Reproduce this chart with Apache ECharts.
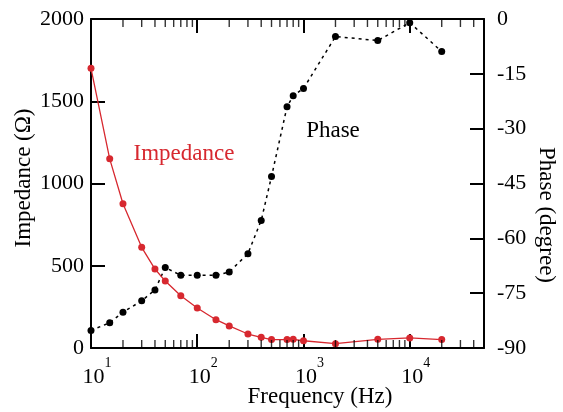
<!DOCTYPE html>
<html>
<head>
<meta charset="utf-8">
<script src="https://cdn.jsdelivr.net/npm/echarts@6/dist/echarts.min.js"></script>
<style>html,body{margin:0;padding:0;background:#fff;}#c{width:563px;height:412px;}</style>
</head>
<body>
<div id="c"></div>
<script>
var frequency = [10,15,20,30,40,50,70,100,150,200,300,400,500,700,800,1000,2000,5000,10000,20000];
var impedance = [1700,1150,877,612,480,407,318,243,172,134,85,65,51,51,53,44,26,53,61,51];
var phase = [-85.2,-83.1,-80.2,-77.1,-74.1,-68.0,-70.1,-70.1,-70.1,-69.2,-64.2,-55.1,-43.1,-24.0,-21.0,-19.0,-4.8,-5.9,-1.0,-8.9];
var impedanceTicks = [0,500,1000,1500,2000];
var phaseTicks = [-90,-75,-60,-45,-30,-15,0];
var xMin = 10, xMax = 50000;

var FONT = '"Liberation Serif", "Times New Roman", serif';
var RED = '#d7282f';

var minorTicks = [];
[10,100,1000,10000].forEach(function(d){
  for (var k = 2; k <= 9; k++) { if (d*k < xMax) minorTicks.push(d*k); }
});

function zip(a, b){ return a.map(function(v,i){ return [v, b[i]]; }); }
function plain(v){ return String(v); }

var chart = echarts.init(document.getElementById('c'), null, {renderer:'canvas'});
var axisLineStyle = {color:'#000', width:2};
var option = {
  animation: false,
  backgroundColor: '#fff',
  textStyle: {fontFamily: FONT},
  grid: {left:91, right:79, top:19, bottom:64, containLabel:false},
  xAxis: [{
    type:'log', logBase:10, min:xMin, max:xMax, position:'bottom',
    axisLine:{show:true, onZero:false, lineStyle:axisLineStyle},
    axisTick:{show:true, inside:true, length:14, lineStyle:{color:'#000', width:2}},
    splitLine:{show:false}, minorTick:{show:false},
    axisLabel:{
      show:true, margin:8.5, showMaxLabel:false, color:'#000', fontFamily:FONT,
      formatter:function(v){
        var e = Math.log10(v);
        if (Math.abs(e - Math.round(e)) > 1e-6) return '';
        return '{b|10}{s|' + Math.round(e) + '}';
      },
      rich:{
        b:{fontFamily:FONT, fontSize:22, color:'#000', lineHeight:32, verticalAlign:'bottom', padding:[0,0,0,12]},
        s:{fontFamily:FONT, fontSize:14, color:'#000', lineHeight:12, verticalAlign:'top'}
      }
    }
  },{
    type:'log', logBase:10, min:xMin, max:xMax, position:'top', gridIndex:0,
    axisLine:{show:true, onZero:false, lineStyle:axisLineStyle},
    axisTick:{show:true, inside:true, length:14, lineStyle:{color:'#000', width:2}},
    splitLine:{show:false}, axisLabel:{show:false}
  }],
  yAxis: [{
    type:'value', min:impedanceTicks[0], max:impedanceTicks[impedanceTicks.length-1], interval:500, position:'left',
    axisLine:{show:true, onZero:false, lineStyle:axisLineStyle},
    axisTick:{show:true, inside:true, length:14, lineStyle:{color:'#000', width:2}},
    splitLine:{show:false},
    axisLabel:{margin:7, color:'#000', fontFamily:FONT, fontSize:22, formatter:plain}
  },{
    type:'value', min:phaseTicks[0], max:phaseTicks[phaseTicks.length-1], interval:15, position:'right',
    axisLine:{show:true, onZero:false, lineStyle:axisLineStyle},
    axisTick:{show:true, inside:true, length:14, lineStyle:{color:'#000', width:2}},
    splitLine:{show:false},
    axisLabel:{margin:13, color:'#000', fontFamily:FONT, fontSize:22, formatter:plain}
  }],
  series: [{
    name:'Phase', type:'line', xAxisIndex:0, yAxisIndex:1,
    data: zip(frequency, phase),
    symbol:'circle', symbolSize:7,
    itemStyle:{color:'#000'},
    lineStyle:{color:'#000', width:1.5, type:[3,4]},
    z:3
  },{
    name:'Impedance', type:'line', xAxisIndex:0, yAxisIndex:0,
    data: zip(frequency, impedance),
    symbol:'circle', symbolSize:7,
    itemStyle:{color:RED},
    lineStyle:{color:RED, width:1.3},
    z:4
  },{
    type:'scatter', xAxisIndex:0, yAxisIndex:0, silent:true, clip:false,
    data: minorTicks.map(function(v){ return [v, impedanceTicks[0]]; }),
    symbol:'rect', symbolSize:[1.4,8], symbolOffset:[0,-4],
    itemStyle:{color:'#000'}, z:5
  },{
    type:'scatter', xAxisIndex:0, yAxisIndex:0, silent:true, clip:false,
    data: minorTicks.map(function(v){ return [v, impedanceTicks[impedanceTicks.length-1]]; }),
    symbol:'rect', symbolSize:[1.4,8], symbolOffset:[0,4],
    itemStyle:{color:'#000'}, z:5
  }],
  graphic: [
    {type:'text', x:184, y:154, style:{text:'Impedance', fill:RED, font:'23px ' + FONT, align:'center', verticalAlign:'middle'}},
    {type:'text', x:333, y:131, style:{text:'Phase', fill:'#000', font:'23px ' + FONT, align:'center', verticalAlign:'middle'}},
    {type:'text', x:320, y:397, style:{text:'Frequency (Hz)', fill:'#000', font:'23px ' + FONT, align:'center', verticalAlign:'middle'}},
    {type:'text', x:24, y:178, rotation:Math.PI/2, style:{text:'Impedance (\u03A9)', fill:'#000', font:'23px ' + FONT, align:'center', verticalAlign:'middle'}},
    {type:'text', x:546, y:215, rotation:-Math.PI/2, style:{text:'Phase (degree)', fill:'#000', font:'23px ' + FONT, align:'center', verticalAlign:'middle'}}
  ]
};
chart.setOption(option);
</script>
</body>
</html>
